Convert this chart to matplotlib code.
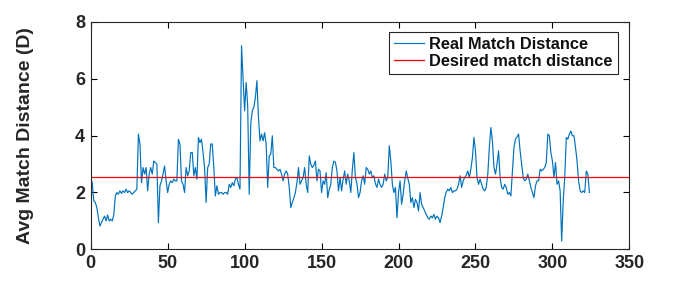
import matplotlib
matplotlib.use("Agg")
import matplotlib.pyplot as plt

real_distance = [
    2.46, 2.34, 1.70, 1.64, 1.46, 1.10, 0.81, 0.93, 1.05, 1.16,
    0.99, 1.20, 0.99, 1.05, 0.99, 1.20, 1.87, 1.99, 1.93, 2.05,
    1.96, 2.05, 1.99, 2.11, 1.99, 2.05, 1.99, 1.93, 1.99, 2.05,
    2.11, 4.05, 3.70, 2.34, 2.87, 2.64, 2.87, 2.05, 2.64, 2.87,
    2.64, 3.10, 3.05, 2.99, 0.93, 2.23, 2.40, 2.64, 2.93, 2.40,
    1.99, 2.28, 2.40, 2.34, 2.46, 2.40, 2.40, 3.87, 3.70, 2.40,
    2.28, 1.99, 2.87, 2.58, 2.75, 3.40, 3.40, 2.58, 2.87, 2.46,
    3.93, 3.75, 3.87, 3.40, 2.87, 1.64, 2.87, 2.99, 3.70, 3.70,
    2.87, 1.87, 2.23, 1.93, 1.99, 1.99, 1.93, 1.99, 1.99, 1.93,
    2.28, 2.17, 2.34, 2.23, 2.46, 2.52, 2.28, 2.11, 7.16, 6.00,
    4.87, 5.87, 5.05, 1.93, 4.40, 4.87, 4.99, 5.34, 5.93, 4.64,
    3.81, 4.05, 3.81, 4.10, 3.70, 2.17, 3.28, 3.34, 3.99, 2.87,
    2.87, 2.81, 2.75, 2.81, 2.64, 2.40, 2.64, 2.75, 2.64, 2.17,
    1.46, 1.64, 1.80, 1.99, 2.34, 2.87, 2.28, 2.40, 2.52, 2.87,
    2.28, 1.99, 3.28, 2.99, 2.87, 2.95, 3.10, 2.40, 2.81, 2.75,
    1.99, 2.40, 2.28, 2.69, 1.81, 2.10, 2.28, 2.87, 3.10, 3.05,
    2.75, 2.05, 2.52, 2.05, 2.46, 2.75, 2.28, 2.64, 2.40, 1.99,
    2.81, 3.40, 2.52, 2.30, 1.81, 1.99, 2.40, 2.58, 2.28, 2.87,
    2.81, 2.64, 2.75, 2.52, 2.58, 2.30, 2.17, 2.46, 2.28, 2.17,
    2.28, 2.64, 2.40, 2.52, 3.64, 3.10, 2.28, 1.99, 2.17, 1.10,
    1.99, 2.40, 1.58, 1.93, 2.40, 2.75, 2.50, 2.28, 1.64, 1.81,
    1.46, 1.75, 1.64, 1.34, 1.99, 1.58, 1.46, 1.34, 1.22, 1.10,
    1.05, 1.16, 1.10, 1.22, 1.05, 1.16, 1.10, 0.93, 1.16, 1.46,
    1.81, 2.00, 2.11, 2.05, 2.17, 1.99, 2.05, 2.05, 2.11, 2.28,
    2.58, 2.17, 2.40, 2.52, 2.60, 2.75, 2.52, 2.81, 3.22, 3.93,
    3.46, 2.52, 2.28, 2.46, 2.28, 2.11, 2.05, 2.17, 2.64, 3.58,
    4.28, 3.81, 2.87, 2.64, 3.00, 3.46, 2.52, 2.17, 2.11, 2.28,
    2.17, 1.93, 1.99, 1.87, 2.75, 3.58, 3.87, 3.95, 4.05, 3.46,
    2.99, 2.52, 2.40, 2.46, 2.64, 2.40, 2.17, 1.99, 1.81, 2.23,
    2.40, 2.40, 2.81, 2.75, 2.81, 2.87, 3.05, 4.05, 3.99, 3.40,
    3.10, 2.52, 3.05, 2.28, 2.40, 2.05, 0.28, 1.70, 2.52, 3.93,
    3.87, 4.05, 4.16, 3.99, 3.99, 3.58, 3.10, 2.40, 2.05, 1.99,
    2.05, 1.99, 2.75, 2.64, 1.99,
]
frames = list(range(len(real_distance)))

desired_distance = 2.54
desired_x = [0, 350]

x_ticks = [0, 50, 100, 150, 200, 250, 300, 350]
y_ticks = [0, 2, 4, 6, 8]
y_label = "Avg Match Distance (D)"
legend_labels = ["Real Match Distance", "Desired match distance"]

plt.rcParams['font.family'] = ['Liberation Sans', 'DejaVu Sans']
plt.rcParams['font.weight'] = 'bold'

fig = plt.figure(figsize=(6.96, 2.82), dpi=100)
ax = fig.add_axes([0.1303, 0.117, 0.774, 0.805])

ax.plot(frames, real_distance, color='#0072BD', linewidth=0.85, label=legend_labels[0])
ax.plot(desired_x, [desired_distance] * len(desired_x), color='#FF0000', linewidth=0.9,
        label=legend_labels[1])

ax.set_xlim(0, 350)
ax.set_ylim(0, 8)
ax.set_xticks(x_ticks)
ax.set_yticks(y_ticks)
ax.tick_params(direction='in', length=4, width=0.8, top=True, right=True,
               labelsize=13, pad=4)
for lbl in ax.get_xticklabels() + ax.get_yticklabels():
    lbl.set_fontweight('bold')
    lbl.set_color('#262626')
for sp in ax.spines.values():
    sp.set_linewidth(0.8)
    sp.set_color('#262626')

ax.set_ylabel(y_label, fontsize=14, fontweight='bold', color='#262626')
ax.yaxis.set_label_coords(-0.105, 0.5)

leg = ax.legend(loc='upper right', bbox_to_anchor=(0.978, 0.955), fontsize=11.8,
                frameon=True, fancybox=False, edgecolor='#262626', framealpha=1,
                handlelength=1.8, handletextpad=0.35, borderpad=0.3,
                labelspacing=0.1, borderaxespad=0)
leg.get_frame().set_linewidth(0.8)
for t in leg.get_texts():
    t.set_fontweight('bold')
    t.set_color('#111111')

fig.savefig('out.png', dpi=100)
